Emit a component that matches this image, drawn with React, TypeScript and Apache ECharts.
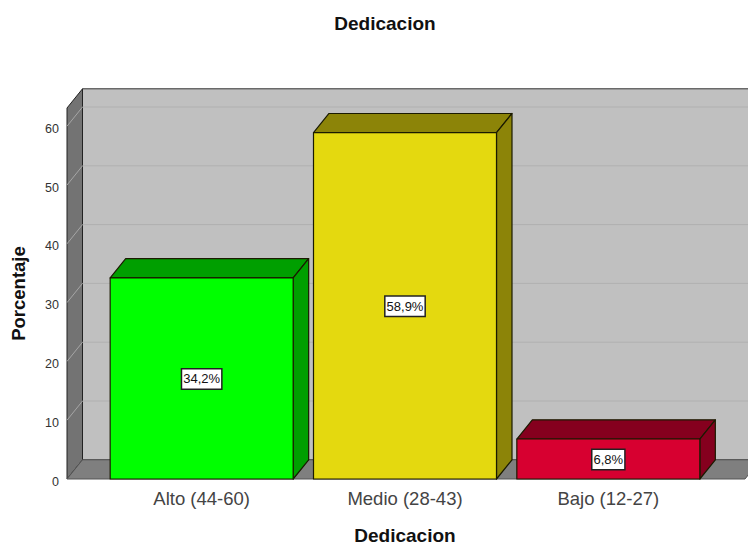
import React, { useEffect, useRef } from "react";
import * as echarts from "echarts";

const categories = ["Alto (44-60)", "Medio (28-43)", "Bajo (12-27)"];
const values = [34.2, 58.9, 6.8];
const frontColors = ["#00ff00", "#e4d90f", "#d70030"];
const topColors = ["#009f00", "#8c8408", "#85001e"];
const gridTicks = [10, 20, 30, 40, 50, 60];

const DX = 15.5;
const DY = 19.2;
const SIDE_PAD_L = 33;
const SIDE_PAD_R = 35;
const FONT = "'Liberation Sans', Arial, sans-serif";

export default function App() {
  const ref = useRef<HTMLDivElement>(null);
  useEffect(() => {
    const chart = echarts.init(ref.current!, null, { renderer: "svg" });
    chart.setOption({
      animation: false,
      backgroundColor: "#ffffff",
      title: {
        text: "Dedicacion",
        left: 380,
        top: 9,
        textAlign: "center",
        textStyle: { fontFamily: FONT, fontSize: 19, fontWeight: "bold", color: "#111" },
      },
      grid: { left: 100, width: 610, top: 108, height: 371, outerBoundsMode: "none" },
      xAxis: {
        type: "category",
        data: categories,
        name: "Dedicacion",
        nameLocation: "middle",
        nameGap: 47,
        nameTextStyle: { fontFamily: FONT, fontSize: 19, fontWeight: "bold", color: "#111", lineHeight: 18 },
        axisLine: { show: false },
        axisTick: { show: false },
        axisLabel: { fontFamily: FONT, fontSize: 18.5, color: "#444", margin: 10 },
      },
      yAxis: {
        type: "value",
        min: 0,
        max: 63.1,
        interval: 10,
        offset: 33,
        name: "Porcentaje",
        nameLocation: "middle",
        nameGap: 39,
        nameRotate: 90,
        nameTextStyle: { fontFamily: FONT, fontSize: 18.5, fontWeight: "bold", color: "#111" },
        axisLine: { show: false },
        axisTick: { show: false },
        splitLine: { show: false },
        axisLabel: {
          fontFamily: FONT,
          fontSize: 12.5,
          color: "#333",
          margin: 8,
          verticalAlign: "top",
          lineHeight: 5,
          formatter: (v: number) => (v % 10 === 0 ? String(v) : ""),
        },
      },
      series: [
        {
          type: "custom",
          z: 1,
          data: [[0, 0]],
          encode: { x: 0, y: 1 },
          renderItem: (params: any, api: any) => {
            const c = params.coordSys;
            const l = c.x - SIDE_PAD_L;
            const r = c.x + c.width + SIDE_PAD_R;
            const t = c.y;
            const b = c.y + c.height;
            return {
              type: "group",
              children: [
                { type: "polygon", shape: { points: [[l + DX, t - DY], [r + DX, t - DY], [r + DX, b - DY], [l + DX, b - DY]] }, style: { fill: "#c0c0c0", stroke: "#333", lineWidth: 1 } },
                { type: "polygon", shape: { points: [[l, t], [l + DX, t - DY], [l + DX, b - DY], [l, b]] }, style: { fill: "#737373", stroke: "#222", lineWidth: 1 } },
                { type: "polygon", shape: { points: [[l, b], [l + DX, b - DY], [r + DX, b - DY], [r, b]] }, style: { fill: "#7f7f7f", stroke: "#555", lineWidth: 1 } },
              ],
            };
          },
        },
        {
          type: "custom",
          z: 2,
          data: gridTicks.map((v) => [0, v]),
          encode: { x: 0, y: 1 },
          renderItem: (params: any, api: any) => {
            const c = params.coordSys;
            const l = c.x - SIDE_PAD_L;
            const r = c.x + c.width + SIDE_PAD_R;
            const y = api.coord([0, api.value(1)])[1];
            return {
              type: "group",
              children: [
                { type: "line", shape: { x1: l, y1: y, x2: l + DX, y2: y - DY }, style: { stroke: "#a6a6a6", lineWidth: 1 } },
                { type: "line", shape: { x1: l + DX, y1: y - DY, x2: r + DX, y2: y - DY }, style: { stroke: "#b0b0b0", lineWidth: 1 } },
              ],
            };
          },
        },
        {
          type: "custom",
          z: 3,
          data: values.map((v, i) => [i, v]),
          encode: { x: 0, y: 1 },
          renderItem: (params: any, api: any) => {
            const i = api.value(0);
            const v = api.value(1);
            const [cx, yTop] = api.coord([i, v]);
            const yBase = api.coord([i, 0])[1];
            const w = api.size([1, 0])[0] * 0.9;
            const l = cx - w / 2;
            const r = cx + w / 2;
            const edge = { stroke: "#1a1a00", lineWidth: 1.2, lineJoin: "round" };
            return {
              type: "group",
              children: [
                { type: "polygon", shape: { points: [[l, yTop], [l + DX, yTop - DY], [r + DX, yTop - DY], [r, yTop]] }, style: { fill: topColors[i], ...edge } },
                { type: "polygon", shape: { points: [[r, yTop], [r + DX, yTop - DY], [r + DX, yBase - DY], [r, yBase]] }, style: { fill: topColors[i], ...edge } },
                { type: "polygon", shape: { points: [[l, yTop], [r, yTop], [r, yBase], [l, yBase]] }, style: { fill: frontColors[i], ...edge } },
                {
                  type: "text",
                  x: cx,
                  y: (yTop + yBase) / 2 + 0.5,
                  style: {
                    text: v.toFixed(1).replace(".", ",") + "%",
                    align: "center",
                    verticalAlign: "middle",
                    fontFamily: FONT,
                    fontSize: 13,
                    fill: "#111",
                    backgroundColor: "#fff",
                    borderColor: "#222",
                    borderWidth: 1.5,
                    padding: [3, 1, 3, 1],
                  },
                },
              ],
            };
          },
        },
      ],
    });
    return () => chart.dispose();
  }, []);
  return <div ref={ref} style={{ position: "fixed", left: 0, top: 0, width: 748, height: 544 }} />;
}
